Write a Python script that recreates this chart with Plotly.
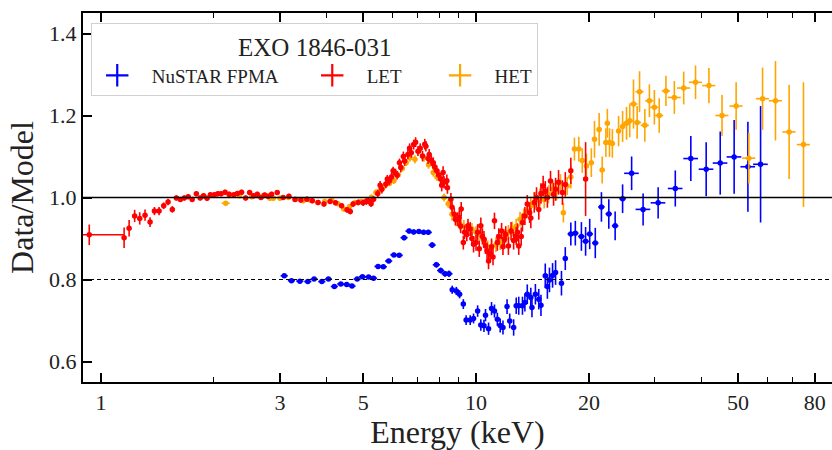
import plotly.graph_objects as go
import math

# ---------------- data ----------------
let_energy = [0.93, 1.152, 1.188, 1.229, 1.268, 1.31, 1.351, 1.388, 1.428, 1.469,
              1.509, 1.549, 1.588, 1.627, 1.667, 1.708, 1.75, 1.795, 1.838, 1.877,
              1.917, 1.957, 2.006, 2.048, 2.09, 2.142, 2.196, 2.26, 2.31, 2.37,
              2.43, 2.49, 2.55, 2.61, 2.67, 2.73, 2.79, 2.85, 2.95, 3.06,
              3.17, 3.29, 3.41, 3.54, 3.66, 3.79, 3.93, 4.08, 4.22, 4.38,
              4.53, 4.62, 4.70, 4.85, 5.0, 5.1, 5.17, 5.25, 5.33, 5.47,
              5.55, 5.61, 5.75, 5.8, 5.87, 5.95, 6.01, 6.1, 6.16, 6.25,
              6.30, 6.4, 6.45, 6.58, 6.65, 6.72, 6.82, 6.9, 7.0, 7.1,
              7.2, 7.3, 7.35, 7.45, 7.5, 7.6, 7.69, 7.75, 7.86, 7.95,
              8.05, 8.1, 8.17, 8.22, 8.36, 8.39, 8.57, 8.63, 8.75, 8.81,
              8.93, 9.02, 9.1, 9.13, 9.25, 9.32, 9.45, 9.52, 9.65, 9.75,
              9.85, 10.0, 10.1, 10.2, 10.3, 10.4, 10.5, 10.6, 10.7, 10.8,
              10.9, 11.0, 11.1, 11.2, 11.4, 11.5, 11.7, 11.8, 11.9, 12.0,
              12.2, 12.4, 12.6, 12.8, 12.9, 13.0, 13.2, 13.3, 13.5, 13.7,
              13.9, 14.0, 14.3, 14.5, 14.7, 14.9, 15.1, 15.3, 15.5, 15.8,
              16.1, 16.3, 16.6, 17.0, 17.3, 17.9, 19.6]
let_ratio = [0.909, 0.902, 0.925, 0.955, 0.949, 0.957, 0.940, 0.967, 0.967, 0.980,
             0.989, 0.971, 0.999, 0.995, 0.999, 1.002, 0.995, 1.009, 0.999, 1.004,
             0.998, 1.007, 1.007, 1.009, 1.009, 1.013, 1.008, 1.007, 1.010, 1.013,
             0.999, 1.012, 1.004, 1.008, 1.000, 1.006, 1.003, 1.008, 1.012, 1.000,
             1.003, 0.995, 0.994, 0.996, 0.992, 0.988, 0.984, 0.990, 0.987, 0.980,
             0.970, 0.966, 0.984, 0.988, 0.987, 0.990, 0.992, 0.985, 0.996, 1.010,
             1.030, 1.020, 1.033, 1.045, 1.040, 1.050, 1.065, 1.060, 1.054, 1.085,
             1.073, 1.100, 1.089, 1.105, 1.120, 1.109, 1.129, 1.135, 1.113, 1.120,
             1.101, 1.130, 1.125, 1.095, 1.105, 1.090, 1.085, 1.075, 1.065, 1.055,
             1.045, 1.030, 1.061, 1.037, 1.041, 1.024, 0.996, 0.976, 0.959, 0.947,
             0.947, 0.951, 0.930, 0.972, 0.890, 0.915, 0.910, 0.931, 0.923, 0.900,
             0.886, 0.890, 0.915, 0.875, 0.931, 0.905, 0.898, 0.882, 0.870, 0.845,
             0.862, 0.880, 0.855, 0.943, 0.890, 0.905, 0.918, 0.880, 0.898, 0.910,
             0.882, 0.918, 0.895, 0.906, 0.915, 0.882, 0.905, 0.939, 0.955, 0.984,
             0.963, 0.950, 0.988, 1.000, 0.971, 1.010, 1.028, 1.015, 1.000, 1.040,
             1.008, 1.020, 1.037, 1.012, 1.032, 1.065, 1.045]
let_err = [0.025, 0.025, 0.020, 0.015, 0.015, 0.014, 0.012, 0.010, 0.010, 0.008,
           0.008, 0.008, 0.006, 0.006, 0.006, 0.006, 0.006, 0.006, 0.006, 0.006,
           0.006, 0.006, 0.006, 0.006, 0.006, 0.006, 0.006, 0.006, 0.006, 0.006,
           0.006, 0.006, 0.006, 0.006, 0.006, 0.006, 0.006, 0.006, 0.006, 0.006,
           0.006, 0.006, 0.006, 0.006, 0.006, 0.006, 0.006, 0.006, 0.006, 0.006,
           0.007, 0.007, 0.007, 0.007, 0.008, 0.008, 0.008, 0.008, 0.008, 0.009,
           0.010, 0.010, 0.010, 0.010, 0.010, 0.010, 0.010, 0.010, 0.010, 0.010,
           0.012, 0.012, 0.012, 0.012, 0.012, 0.012, 0.012, 0.012, 0.012, 0.012,
           0.013, 0.013, 0.013, 0.013, 0.013, 0.013, 0.013, 0.013, 0.013, 0.013,
           0.015, 0.015, 0.015, 0.015, 0.015, 0.015, 0.015, 0.015, 0.015, 0.015,
           0.017, 0.017, 0.017, 0.017, 0.017, 0.017, 0.017, 0.017, 0.017, 0.017,
           0.020, 0.020, 0.020, 0.020, 0.020, 0.020, 0.020, 0.020, 0.020, 0.020,
           0.020, 0.020, 0.020, 0.020, 0.020, 0.020, 0.020, 0.020, 0.020, 0.020,
           0.022, 0.022, 0.022, 0.022, 0.022, 0.022, 0.022, 0.022, 0.022, 0.022,
           0.025, 0.025, 0.025, 0.025, 0.025, 0.025, 0.025, 0.025, 0.025, 0.025,
           0.028, 0.028, 0.030, 0.030, 0.030, 0.032, 0.090]

het_energy = [2.15, 2.20, 2.34, 2.52, 2.70, 2.82, 2.88, 3.00, 3.16, 3.30,
              3.46, 3.62, 3.79, 3.95, 4.12, 4.28, 4.44, 4.60, 4.76, 4.93,
              5.11, 5.26, 5.41, 5.56, 5.72, 5.88, 6.04, 6.20, 6.36, 6.51,
              6.66, 6.87, 7.05, 7.26, 7.47, 7.69, 7.87, 8.05, 8.22, 8.43,
              8.63, 8.85, 9.06, 9.28, 9.52, 9.75, 10.0, 10.25, 10.5, 10.75,
              11.0, 11.3, 11.6, 11.9, 12.2, 12.5, 12.8, 13.1, 13.4, 13.7,
              14.0, 14.4, 14.8, 15.2, 15.6, 16.0, 16.4, 16.8, 17.1, 17.5,
              17.9, 18.3, 18.8, 19.2, 19.7, 20.3, 20.7, 21.3, 21.7, 22.2,
              22.4, 22.7, 23.1, 24.0, 24.6, 25.2, 25.7, 26.3, 26.9, 27.3,
              28.2, 29.0, 29.9, 30.8, 32.1, 33.8, 35.8, 38.5, 41.8, 45.3,
              49.4, 53.4, 58.1, 62.9, 68.4, 74.7]
het_ratio = [0.986, 1.005, 1.004, 1.002, 1.004, 0.998, 0.998, 0.998, 1.000, 0.996,
             0.992, 0.993, 0.988, 0.990, 0.994, 0.985, 0.972, 0.978, 0.988, 0.990,
             0.992, 1.000, 1.012, 1.020, 1.029, 1.035, 1.041, 1.055, 1.071, 1.085,
             1.097, 1.093, 1.115, 1.097, 1.080, 1.061, 1.050, 1.045, 1.000, 0.985,
             0.959, 0.945, 0.935, 0.930, 0.927, 0.923, 0.915, 0.910, 0.895, 0.880,
             0.878, 0.885, 0.890, 0.905, 0.915, 0.923, 0.930, 0.947, 0.955, 0.967,
             0.980, 0.992, 1.000, 0.995, 1.008, 1.020, 1.015, 1.035, 0.963, 1.028,
             1.050, 1.118, 1.118, 1.090, 1.077, 1.085, 1.142, 1.166, 1.067, 1.134,
             1.181, 1.134, 1.132, 1.162, 1.173, 1.181, 1.187, 1.228, 1.183, 1.258,
             1.176, 1.236, 1.220, 1.200, 1.260, 1.244, 1.267, 1.281, 1.273, 1.200,
             1.223, 1.096, 1.241, 1.236, 1.160, 1.129]
het_err = [0.004, 0.006, 0.006, 0.006, 0.006, 0.006, 0.006, 0.006, 0.006, 0.006,
           0.006, 0.006, 0.006, 0.006, 0.006, 0.006, 0.006, 0.006, 0.006, 0.006,
           0.008, 0.008, 0.008, 0.008, 0.008, 0.008, 0.008, 0.008, 0.008, 0.008,
           0.010, 0.010, 0.010, 0.010, 0.010, 0.010, 0.010, 0.010, 0.010, 0.010,
           0.015, 0.015, 0.015, 0.015, 0.015, 0.015, 0.015, 0.015, 0.015, 0.015,
           0.018, 0.018, 0.018, 0.018, 0.018, 0.018, 0.018, 0.018, 0.018, 0.018,
           0.022, 0.022, 0.022, 0.022, 0.022, 0.022, 0.022, 0.022, 0.024, 0.022,
           0.028, 0.028, 0.030, 0.030, 0.030, 0.035, 0.045, 0.040, 0.033, 0.035,
           0.035, 0.035, 0.035, 0.037, 0.038, 0.040, 0.040, 0.060, 0.040, 0.050,
           0.040, 0.040, 0.042, 0.042, 0.037, 0.040, 0.040, 0.041, 0.043, 0.050,
           0.058, 0.062, 0.076, 0.097, 0.115, 0.152]

nu_energy = [3.08, 3.22, 3.39, 3.56, 3.70, 3.88, 4.04, 4.19, 4.36, 4.52,
             4.67, 4.82, 4.98, 5.17, 5.33, 5.48, 5.66, 5.85, 6.04, 6.24,
             6.43, 6.63, 6.82, 7.04, 7.25, 7.46, 7.64, 7.84, 8.05, 8.27,
             8.47, 8.64, 8.86, 9.04, 9.25, 9.41, 9.65, 9.85, 10.1, 10.3,
             10.5, 10.6, 10.8, 11.0, 11.2, 11.4, 11.6, 11.8, 12.1, 12.3,
             12.6, 12.8, 13.0, 13.3, 13.5, 13.7, 14.0, 14.1, 14.4, 14.7,
             14.9, 15.3, 15.5, 15.7, 16.0, 16.3, 16.9, 17.3, 17.9, 18.4,
             19.1, 19.6, 20.1, 20.8, 21.6, 22.6, 23.5, 24.6, 26.0, 27.9,
             30.6, 34.0, 37.4, 41.1, 44.8, 48.8, 53.1, 57.4]
nu_ratio = [0.809, 0.797, 0.796, 0.795, 0.801, 0.795, 0.801, 0.783, 0.789, 0.788,
            0.784, 0.801, 0.807, 0.806, 0.803, 0.832, 0.831, 0.845, 0.860, 0.859,
            0.902, 0.918, 0.916, 0.917, 0.915, 0.915, 0.884, 0.836, 0.822, 0.814,
            0.814, 0.775, 0.772, 0.764, 0.740, 0.701, 0.701, 0.705, 0.723, 0.689,
            0.687, 0.713, 0.680, 0.729, 0.723, 0.703, 0.688, 0.683, 0.734, 0.699,
            0.683, 0.736, 0.736, 0.736, 0.744, 0.764, 0.756, 0.732, 0.764, 0.752,
            0.737, 0.809, 0.783, 0.799, 0.810, 0.817, 0.791, 0.851, 0.911, 0.913,
            0.905, 0.893, 0.911, 0.889, 0.977, 0.960, 0.931, 0.997, 1.059, 0.971,
            0.987, 1.022, 1.095, 1.069, 1.084, 1.099, 1.075, 1.081]
nu_err = [0.004, 0.004, 0.004, 0.004, 0.004, 0.004, 0.004, 0.004, 0.004, 0.004,
          0.004, 0.004, 0.004, 0.005, 0.005, 0.005, 0.005, 0.005, 0.005, 0.005,
          0.006, 0.006, 0.006, 0.006, 0.006, 0.006, 0.007, 0.007, 0.007, 0.007,
          0.008, 0.010, 0.010, 0.010, 0.012, 0.012, 0.012, 0.012, 0.014, 0.014,
          0.015, 0.015, 0.015, 0.016, 0.016, 0.016, 0.017, 0.017, 0.018, 0.018,
          0.020, 0.020, 0.022, 0.022, 0.022, 0.024, 0.024, 0.024, 0.025, 0.025,
          0.026, 0.030, 0.030, 0.030, 0.030, 0.030, 0.030, 0.028, 0.028, 0.030,
          0.035, 0.035, 0.037, 0.037, 0.036, 0.036, 0.035, 0.035, 0.041, 0.039,
          0.038, 0.044, 0.055, 0.066, 0.077, 0.090, 0.110, 0.142]

# horizontal bin half-widths (fraction of energy)
let_xerr = [0.22] + [0.012 * e for e in let_energy[1:]]
het_xerr = [e * (0.025 if e < 2.18 else 0.015 if e < 25 else 0.025 if e < 33 else 0.04) for e in het_energy]
nu_xerr = [e * (0.022 if e < 8.5 else 0.012 if e < 17.5 else 0.02 if e < 25.5 else 0.045) for e in nu_energy]

NB = "\u00a0"
# (legend label, colour, data..., leading pad, trailing pad)
series = {
    "nu": ("NuSTAR FPMA", "#0000ff", nu_energy, nu_ratio, nu_err, nu_xerr, 2, 5),
    "let": ("LET", "#ff0000", let_energy, let_ratio, let_err, let_xerr, 2, 6),
    "het": ("HET", "#ffa500", het_energy, het_ratio, het_err, het_xerr, 2, 0),
}

FONT = "Liberation Serif"
fig = go.Figure()

# drawing order: NuSTAR, HET, then LET on top
for key in ["nu", "het", "let"]:
    name, color, x, y, ey, ex, _, _ = series[key]
    fig.add_trace(go.Scatter(
        x=x, y=y, mode="markers", showlegend=False, name=name,
        marker=dict(color=color, size=5.5, line=dict(width=0)),
        error_y=dict(type="data", array=ey, visible=True, color=color, thickness=1.6, width=0),
        error_x=dict(type="data", array=ex, visible=True, color=color, thickness=1.6, width=0),
    ))

# legend entries (order NuSTAR, LET, HET)
for key in ["nu", "let", "het"]:
    name, color, _, _, _, _, lead, trail = series[key]
    fig.add_trace(go.Scatter(
        x=[None], y=[None], mode="markers", name=NB * lead + name + NB * trail, showlegend=True,
        marker=dict(symbol="cross-thin", size=16, color=color, line=dict(color=color, width=2.2)),
    ))

fig.add_hline(y=1.0, line=dict(color="black", width=1.4))
fig.add_hline(y=0.8, line=dict(color="black", width=1, dash="4px,3px"))

fig.update_layout(
    width=832, height=450,
    margin=dict(l=83, r=0, t=13, b=68),
    paper_bgcolor="white", plot_bgcolor="white",
    font=dict(family=FONT, color="#222222", size=20),
    legend=dict(
        x=0.011, y=0.973, xanchor="left", yanchor="top",
        orientation="h",
        bgcolor="rgba(255,255,255,0.85)", bordercolor="#d0d0d0", borderwidth=1,
        font=dict(family=FONT, size=19, color="#222222"),
        title=dict(text="EXO 1846-031", side="top center",
                   font=dict(family=FONT, size=25, color="#222222")),
        itemwidth=40,
    ),
    showlegend=True,
)

fig.update_xaxes(
    type="log",
    range=[math.log10(0.895), math.log10(89)],
    tickvals=[1, 3, 5, 10, 20, 50, 80],
    ticktext=["1", "3", "5", "10", "20", "50", "80"],
    ticks="inside", ticklen=9, tickwidth=1.5, tickcolor="black",
    minor=dict(ticks="inside", ticklen=5, tickwidth=1.2, tickcolor="black",
               tickvals=[2, 4, 6, 7, 8, 9, 30, 40, 60, 70]),
    showline=True, linecolor="black", linewidth=2, mirror="ticks",
    showgrid=False, zeroline=False,
    tickfont=dict(family=FONT, size=22, color="#222222"),
    title=dict(text="Energy (keV)", font=dict(family=FONT, size=32, color="#222222"), standoff=3),
)
fig.update_yaxes(
    range=[0.55, 1.45],
    tickvals=[0.6, 0.8, 1.0, 1.2, 1.4],
    tickformat=".1f",
    ticks="inside", ticklen=9, tickwidth=1.5, tickcolor="black",
    showline=True, linecolor="black", linewidth=2, mirror=False,
    showgrid=False, zeroline=False,
    tickfont=dict(family=FONT, size=22, color="#222222"),
    title=dict(text="Data/Model", font=dict(family=FONT, size=32, color="#222222"), standoff=6),
)

fig.write_html("out.html")
